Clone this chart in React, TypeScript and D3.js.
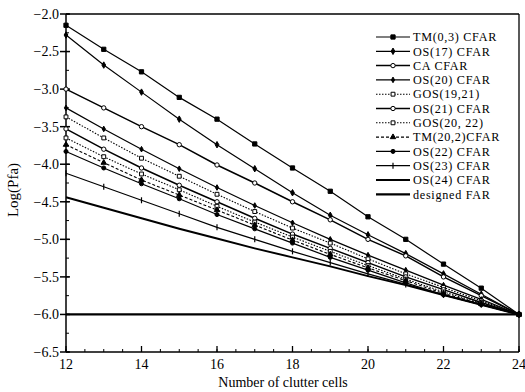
import * as d3 from "d3"

// clutter cells on the x axis
const cells = [12, 13, 14, 15, 16, 17, 18, 19, 20, 21, 22, 23, 24]

// log(Pfa) per detector
const tm03 = [-2.15, -2.47, -2.77, -3.11, -3.4, -3.73, -4.05, -4.36, -4.7, -5.0, -5.33, -5.65, -6.0]
const os17 = [-2.28, -2.68, -3.04, -3.4, -3.74, -4.06, -4.38, -4.68, -4.94, -5.19, -5.46, -5.73, -6.0]
const caCfar = [-3.0, -3.25, -3.5, -3.74, -4.01, -4.25, -4.5, -4.74, -5.0, -5.22, -5.5, -5.75, -6.0]
const os20 = [-3.25, -3.53, -3.8, -4.06, -4.31, -4.55, -4.78, -5.0, -5.21, -5.41, -5.61, -5.8, -6.0]
const gos1921 = [-3.37, -3.65, -3.92, -4.16, -4.4, -4.63, -4.85, -5.05, -5.26, -5.46, -5.64, -5.82, -6.0]
const os21 = [-3.53, -3.8, -4.05, -4.28, -4.5, -4.72, -4.93, -5.12, -5.31, -5.5, -5.67, -5.84, -6.0]
const gos2022 = [-3.65, -3.9, -4.13, -4.34, -4.56, -4.77, -4.97, -5.16, -5.35, -5.53, -5.7, -5.85, -6.0]
const tm202 = [-3.74, -3.98, -4.21, -4.41, -4.61, -4.81, -5.01, -5.2, -5.38, -5.55, -5.72, -5.86, -6.0]
const os22 = [-3.83, -4.05, -4.26, -4.46, -4.67, -4.86, -5.05, -5.24, -5.41, -5.58, -5.74, -5.87, -6.0]
const os23 = [-4.12, -4.3, -4.48, -4.66, -4.84, -5.0, -5.16, -5.31, -5.46, -5.6, -5.74, -5.87, -6.0]
const os24 = [-4.44, -4.58, -4.72, -4.86, -4.99, -5.12, -5.24, -5.36, -5.49, -5.61, -5.74, -5.87, -6.0]
const designed = [-6.0, -6.0, -6.0, -6.0, -6.0, -6.0, -6.0, -6.0, -6.0, -6.0, -6.0, -6.0, -6.0]

const names = [
  "TM(0,3) CFAR",
  "OS(17) CFAR",
  "CA CFAR",
  "OS(20) CFAR",
  "GOS(19,21)",
  "OS(21) CFAR",
  "GOS(20, 22)",
  "TM(20,2)CFAR",
  "OS(22) CFAR",
  "OS(23) CFAR",
  "OS(24) CFAR",
  "designed FAR",
]
const values = [tm03, os17, caCfar, os20, gos1921, os21, gos2022, tm202, os22, os23, os24, designed]

const yTicks = [-2.0, -2.5, -3.0, -3.5, -4.0, -4.5, -5.0, -5.5, -6.0, -6.5]
const xTicks = [12, 14, 16, 18, 20, 22, 24]

type Style = { marker: string; dash?: string; width: number; size: number }
const styles: Style[] = [
  { marker: "square", width: 1.2, size: 18 },
  { marker: "diamond", width: 1.2, size: 12 },
  { marker: "openCircle", width: 1.5, size: 15 },
  { marker: "diamond", width: 1.2, size: 9 },
  { marker: "openSquare", dash: "1.5,1.5", width: 1.1, size: 15 },
  { marker: "openCircle", width: 1.5, size: 15 },
  { marker: "openSquare", dash: "1.5,1.5", width: 1.1, size: 15 },
  { marker: "triangle", dash: "3,2", width: 1.1, size: 13 },
  { marker: "circle", width: 1.2, size: 13 },
  { marker: "tick", width: 1.2, size: 0 },
  { marker: "none", width: 2, size: 0 },
  { marker: "none", width: 2.2, size: 0 },
]

const W = 525
const H = 392
const font = "'Liberation Serif', 'Times New Roman', serif"

function Marker({ kind, x, y, size }: { kind: string; x: number; y: number; size: number }) {
  if (kind === "none") return null
  if (kind === "tick") {
    return <line x1={x} x2={x} y1={y - 3} y2={y + 3} stroke="#000" strokeWidth={1.2} />
  }
  const type =
    kind === "square" || kind === "openSquare"
      ? d3.symbolSquare
      : kind === "diamond"
      ? d3.symbolDiamond
      : kind === "triangle"
      ? d3.symbolTriangle
      : d3.symbolCircle
  const open = kind.startsWith("open")
  const d = d3.symbol().type(type).size(size)()
  return (
    <path
      d={d || ""}
      transform={`translate(${x},${y})`}
      fill={open ? "#fff" : "#000"}
      stroke="#000"
      strokeWidth={1}
    />
  )
}

export default function App() {
  const x = d3.scaleLinear().domain([12, 24]).range([66, 519])
  const y = d3.scaleLinear().domain([-6.5, -2]).range([352, 14])
  const line = d3
    .line<number>()
    .x((d, i) => x(cells[i]))
    .y((d) => y(d))
  const fmt = d3.format(".1f")

  const yMinor = d3.range(-6.5, -1.99, 0.25)
  const xMinor = d3.range(12, 24.01, 0.5)

  const legendX = 376
  const legendY = 37
  const legendStep = 14.3

  return (
    <svg
      width={W}
      height={H}
      style={{ position: "absolute", left: 0, top: 0, background: "#fff" }}
      fontFamily={font}
    >
      <rect width={W} height={H} fill="#fff" />

      {/* frame */}
      <line x1={x(12)} x2={x(24)} y1={y(-2)} y2={y(-2)} stroke="#000" strokeWidth={1.3} />
      <line x1={x(24)} x2={x(24)} y1={y(-2)} y2={y(-6.5)} stroke="#000" strokeWidth={1.3} />
      <line x1={x(12)} x2={x(12)} y1={y(-2)} y2={y(-6.5)} stroke="#000" strokeWidth={1.5} />
      <line x1={x(12)} x2={x(24)} y1={y(-6.5)} y2={y(-6.5)} stroke="#000" strokeWidth={1.5} />

      {/* y ticks */}
      {yMinor.map((t) => (
        <line key={"ym" + t} x1={x(12)} x2={x(12) + 3} y1={y(t)} y2={y(t)} stroke="#000" strokeWidth={1} />
      ))}
      {yTicks.map((t) => (
        <g key={"y" + t}>
          <line x1={x(12) - 6} x2={x(12) + 4} y1={y(t)} y2={y(t)} stroke="#000" strokeWidth={1.5} />
          <text x={x(12) - 7} y={y(t)} dy="0.35em" textAnchor="end" fontSize={14}>
            {fmt(t)}
          </text>
        </g>
      ))}

      {/* x ticks */}
      {xMinor.map((t) => (
        <line key={"xm" + t} x1={x(t)} x2={x(t)} y1={y(-6.5)} y2={y(-6.5) - 3} stroke="#000" strokeWidth={1} />
      ))}
      {xTicks.map((t) => (
        <g key={"x" + t}>
          <line x1={x(t)} x2={x(t)} y1={y(-6.5)} y2={y(-6.5) - 6} stroke="#000" strokeWidth={1.3} />
          <text x={x(t)} y={369} textAnchor="middle" fontSize={14}>
            {t}
          </text>
        </g>
      ))}

      {/* axis titles */}
      <text x={283} y={387} textAnchor="middle" fontSize={14}>
        Number of clutter cells
      </text>
      <text transform="translate(18,190) rotate(-90)" textAnchor="middle" fontSize={15}>
        Log(Pfa)
      </text>

      {/* series */}
      {values.map((vals, k) => (
        <g key={names[k]}>
          <path
            d={line(vals) || ""}
            fill="none"
            stroke="#000"
            strokeWidth={styles[k].width}
            strokeDasharray={styles[k].dash}
          />
          {vals.map((v, i) => (
            <Marker key={i} kind={styles[k].marker} x={x(cells[i])} y={y(v)} size={styles[k].size} />
          ))}
        </g>
      ))}

      {/* legend */}
      {names.map((n, k) => {
        const ly = legendY + k * legendStep
        return (
          <g key={"lg" + n}>
            <line
              x1={legendX}
              x2={legendX + 34}
              y1={ly}
              y2={ly}
              stroke="#000"
              strokeWidth={styles[k].width}
              strokeDasharray={styles[k].dash}
            />
            <Marker kind={styles[k].marker} x={legendX + 17} y={ly} size={styles[k].size} />
            <text x={legendX + 37} y={ly} dy="0.35em" fontSize={12.2} letterSpacing={0.7}>
              {n}
            </text>
          </g>
        )
      })}
    </svg>
  )
}
